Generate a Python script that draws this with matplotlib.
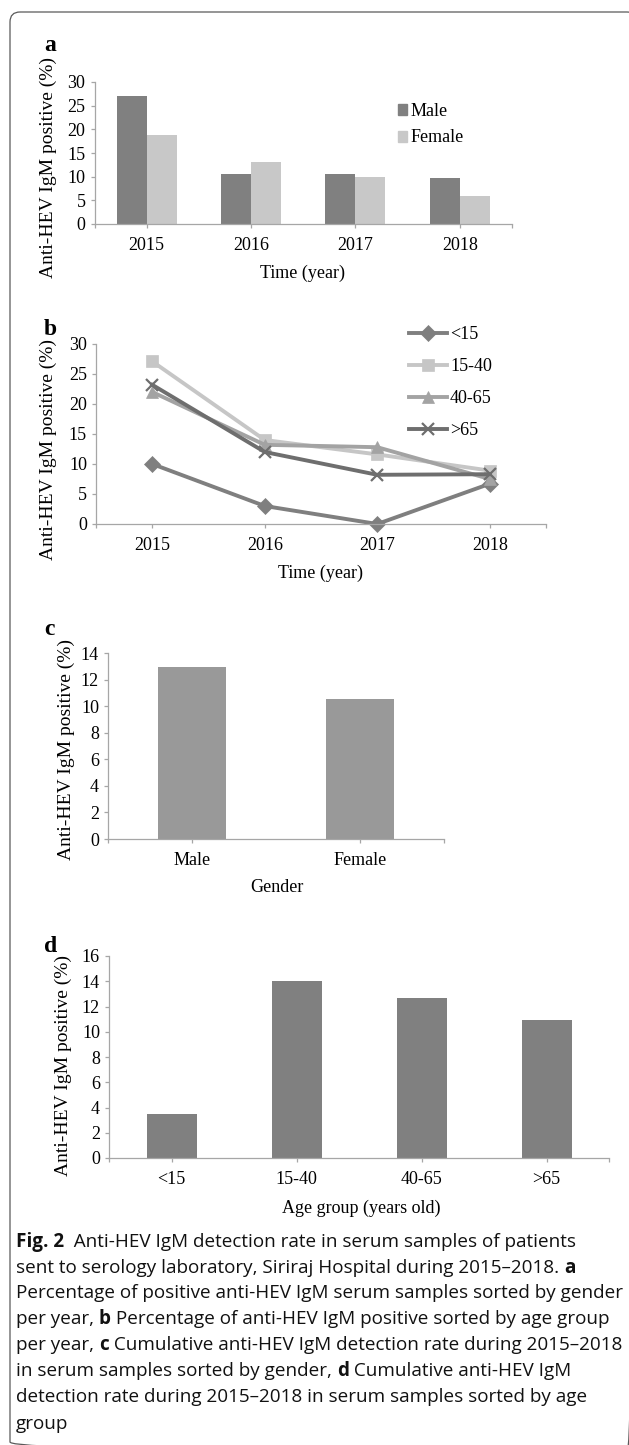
import matplotlib
matplotlib.use('Agg')
import matplotlib.pyplot as plt
from matplotlib.patches import FancyBboxPatch, Patch
from matplotlib.font_manager import FontProperties

# ---------------- data ----------------
years = ['2015', '2016', '2017', '2018']
male_by_year = [27.0, 10.6, 10.6, 9.8]
female_by_year = [18.7, 13.0, 9.9, 5.9]

age_groups = ['<15', '15-40', '40-65', '>65']
lt15_by_year = [10.0, 3.0, 0.0, 6.7]
a15_40_by_year = [27.1, 14.0, 11.6, 8.9]
a40_65_by_year = [22.0, 13.2, 12.8, 7.5]
gt65_by_year = [23.2, 12.0, 8.2, 8.3]

genders = ['Male', 'Female']
gender_total = [12.95, 10.55]

age_total = [3.5, 14.0, 12.7, 10.9]

ylabel_txt = 'Anti-HEV IgM positive (%)'

# ---------------- figure ----------------
W, H = 629, 1445
plt.rcParams['font.family'] = ['Liberation Serif', 'DejaVu Serif']
fig = plt.figure(figsize=(W / 100, H / 100), dpi=100)
bg = fig.add_axes([0, 0, 1, 1])
bg.set_xlim(0, W)
bg.set_ylim(H, 0)
bg.axis('off')

frame = FancyBboxPatch((10, 12), 627, 1440, boxstyle='round,pad=0,rounding_size=10',
                       fill=False, edgecolor='#5a5a5a', linewidth=0.9)
bg.add_patch(frame)

AX_COL = '#a6a6a6'
FS = 13
YFS = 14


def pax(x0, y0, x1, y1):
    return fig.add_axes([x0 / W, 1 - y1 / H, (x1 - x0) / W, (y1 - y0) / H])


def style(ax, n):
    for s in ['top', 'right']:
        ax.spines[s].set_visible(False)
    for s in ['left', 'bottom']:
        ax.spines[s].set_color(AX_COL)
        ax.spines[s].set_linewidth(0.9)
    ax.set_xlim(-0.5, n - 0.5)
    ax.set_xticks([-0.5, n - 0.5], minor=True)
    ax.tick_params(axis='both', which='both', color=AX_COL, length=3, width=0.9,
                   labelsize=FS, direction='out')
    ax.tick_params(axis='y', pad=3.5)
    ax.tick_params(axis='x', pad=6.5)


def labels(ax, letter, lx, lby, ylx, yly, xlx, xly, xlabel):
    bg.text(lx, lby, letter, fontsize=17, fontweight='bold', ha='left', va='baseline')
    ax.set_ylabel(ylabel_txt, fontsize=YFS)
    ax.yaxis.set_label_coords(ylx, yly, transform=bg.transData)
    ax.yaxis.label.set_va('center')
    ax.yaxis.label.set_ha('center')
    ax.set_xlabel(xlabel, fontsize=FS)
    ax.xaxis.set_label_coords(xlx, xly, transform=bg.transData)
    ax.xaxis.label.set_va('center')


# ---- panel a ----
axa = pax(94.5, 82, 512, 224)
style(axa, len(years))
xa = list(range(len(years)))
bw = 0.287
c_male, c_female = '#808080', '#c8c8c8'
axa.bar([x - bw / 2 for x in xa], male_by_year, width=bw, color=c_male, label='Male')
axa.bar([x + bw / 2 for x in xa], female_by_year, width=bw, color=c_female, label='Female')
axa.set_ylim(0, 30)
axa.set_yticks(range(0, 31, 5))
axa.set_xticks(xa)
axa.set_xticklabels(years)
labels(axa, 'a', 44, 51, 48, 167, 303, 273, 'Time (year)')
axa.legend(handles=[Patch(color=c_male), Patch(color=c_female)], labels=['Male', 'Female'],
           loc='center left', bbox_to_anchor=(397.5, 124.5), bbox_transform=bg.transData,
           frameon=False, fontsize=FS, handlelength=0.55, handleheight=0.55,
           handletextpad=0.15, labelspacing=0.55, borderpad=0, borderaxespad=0)

# ---- panel b ----
axb = pax(96, 344, 546, 524)
style(axb, len(years))
series = [
    ('<15', lt15_by_year, '#7f7f7f', 'D', 8),
    ('15-40', a15_40_by_year, '#c6c6c6', 's', 9),
    ('40-65', a40_65_by_year, '#a3a3a3', '^', 9),
    ('>65', gt65_by_year, '#6e6e6e', 'x', 9),
]
handles = []
for name, vals, col, mk, ms in series:
    ln, = axb.plot(xa, vals, color=col, lw=2.8, marker=mk, markersize=ms,
                   markerfacecolor=col, markeredgecolor=col,
                   markeredgewidth=1.6 if mk == 'x' else 0.5, label=name, clip_on=False)
    handles.append(ln)
axb.set_ylim(0, 30)
axb.set_yticks(range(0, 31, 5))
axb.set_xticks(xa)
axb.set_xticklabels(years)
labels(axb, 'b', 44, 335, 48, 450, 321, 573, 'Time (year)')
axb.legend(handles=handles, labels=age_groups, loc='center left',
           bbox_to_anchor=(409, 382.5), bbox_transform=bg.transData,
           frameon=False, fontsize=FS, handlelength=2.1, handletextpad=0.17,
           labelspacing=0.83, borderpad=0, borderaxespad=0)

# ---- panel c ----
axc = pax(108, 653, 444, 839)
style(axc, len(genders))
xc = list(range(len(genders)))
axc.bar(xc, gender_total, width=0.40, color='#999999')
axc.set_ylim(0, 14)
axc.set_yticks(range(0, 15, 2))
axc.set_xticks(xc)
axc.set_xticklabels(genders)
labels(axc, 'c', 44, 635, 66, 750, 277, 888, 'Gender')

# ---- panel d ----
axd = pax(109, 956, 609, 1158)
style(axd, len(age_groups))
xd = list(range(len(age_groups)))
axd.bar(xd, age_total, width=0.40, color='#808080')
axd.set_ylim(0, 16)
axd.set_yticks(range(0, 17, 2))
axd.set_xticks(xd)
axd.set_xticklabels(age_groups)
labels(axd, 'd', 44, 952, 63, 1066, 361, 1208, 'Age group (years old)')

# ---------------- caption ----------------
caption_lines = [
    [('Fig. 2', 'bold'), ('  Anti-HEV IgM detection rate in serum samples of patients', 'normal')],
    [('sent to serology laboratory, Siriraj Hospital during 2015\u20132018. ', 'normal'), ('a', 'bold')],
    [('Percentage of positive anti-HEV IgM serum samples sorted by gender', 'normal')],
    [('per year, ', 'normal'), ('b', 'bold'), (' Percentage of anti-HEV IgM positive sorted by age group', 'normal')],
    [('per year, ', 'normal'), ('c', 'bold'), (' Cumulative anti-HEV IgM detection rate during 2015\u20132018', 'normal')],
    [('in serum samples sorted by gender, ', 'normal'), ('d', 'bold'), (' Cumulative anti-HEV IgM', 'normal')],
    [('detection rate during 2015\u20132018 in serum samples sorted by age', 'normal')],
    [('group', 'normal')],
]
cap_baselines = [1247, 1273, 1298, 1324, 1350, 1376, 1402, 1429]

renderer = fig.canvas.get_renderer()
cap_family = ['Open Sans', 'DejaVu Sans']


def text_w(s, prop):
    w1, _, _ = renderer.get_text_width_height_descent(s + '|', prop, ismath=False)
    w2, _, _ = renderer.get_text_width_height_descent('|', prop, ismath=False)
    return w1 - w2


base = FontProperties(family=cap_family, size=12)
ref_w = text_w(caption_lines[2][0][0], base)
cap_size = 12 * (604 / ref_w)
for segs, yb in zip(caption_lines, cap_baselines):
    x = 16
    for s, wgt in segs:
        prop = FontProperties(family=cap_family, size=cap_size, weight=wgt)
        bg.text(x, yb, s, fontproperties=prop, ha='left', va='baseline', color='#111111')
        x += text_w(s, prop)

fig.savefig('out.png', dpi=100)
